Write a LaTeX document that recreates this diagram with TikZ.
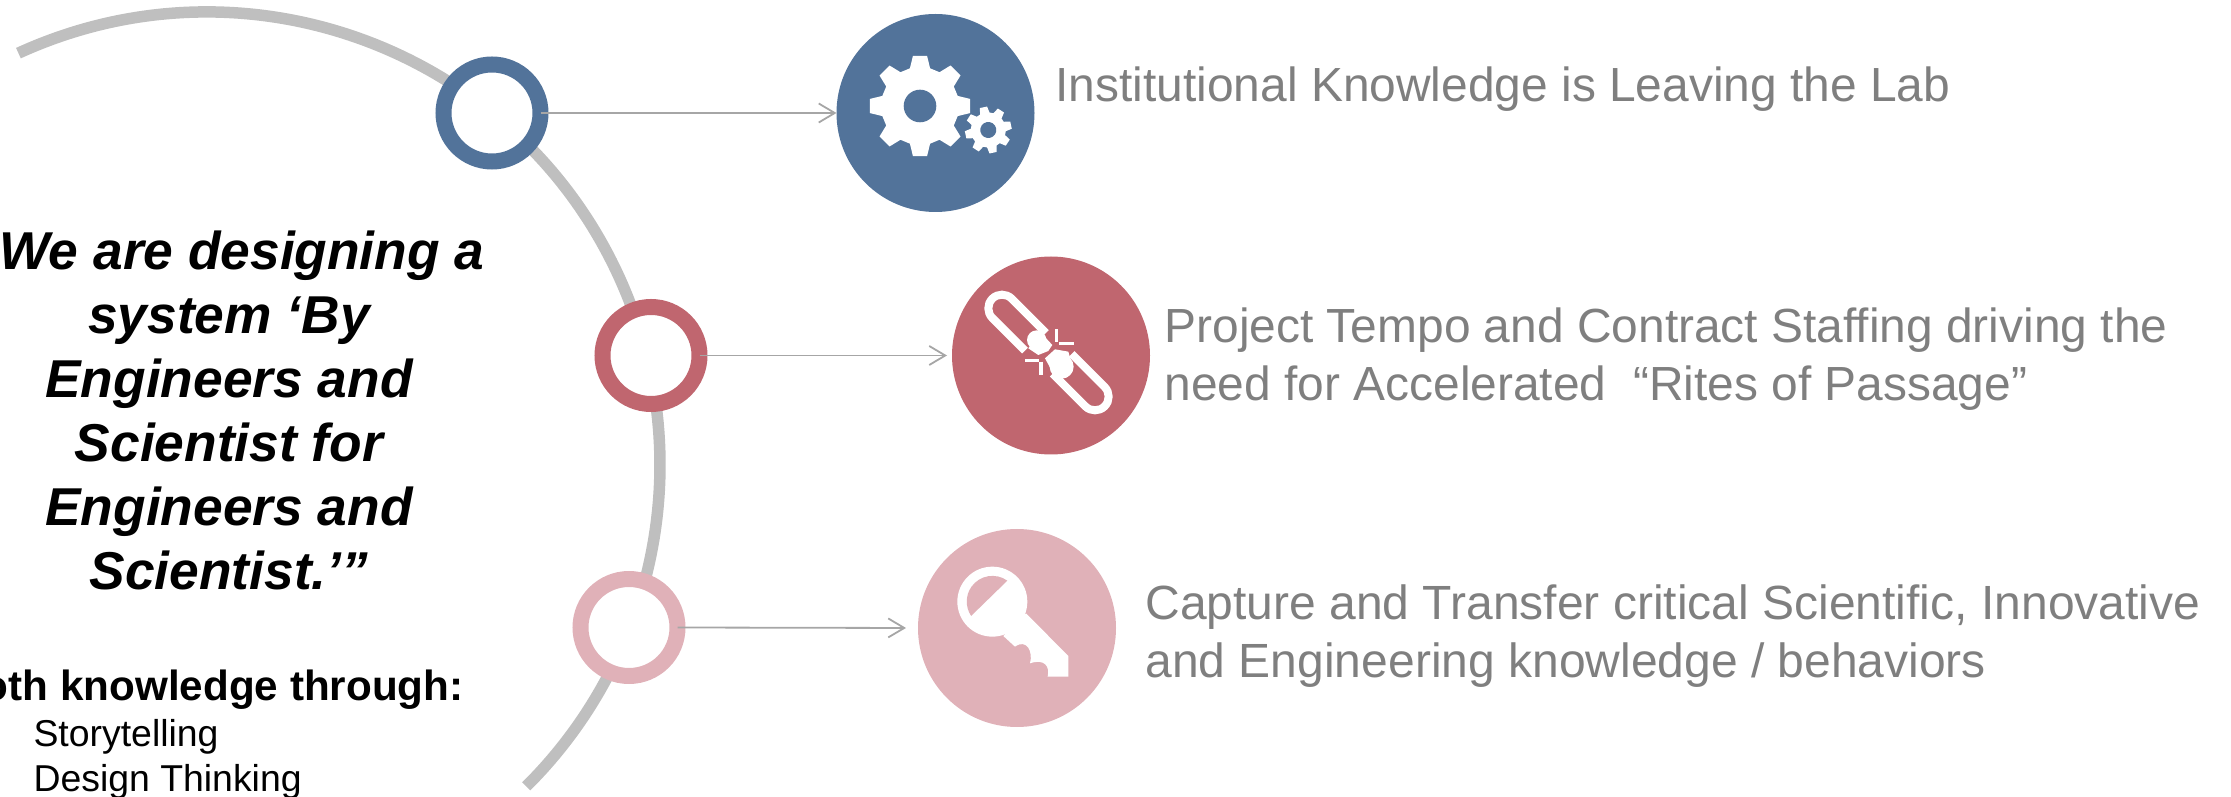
\documentclass[tikz,border=0pt]{standalone}
\usepackage{fontspec}
\setmainfont{Liberation Sans}
\usepackage{tikz}
\usetikzlibrary{arrows,arrows.meta,positioning}
\definecolor{gearblue}{HTML}{52739A}
\definecolor{linkred}{HTML}{C0666F}
\definecolor{keypink}{HTML}{E0B1B8}
\definecolor{arcgrey}{HTML}{BFBFBF}
\definecolor{linegrey}{HTML}{A6A6A6}
\definecolor{textgrey}{HTML}{7F7F7F}
\tikzstyle{ring} = [circle,draw,fill=white,line width=16pt,minimum size=97pt,inner sep=0pt,outer sep=0pt]
\tikzstyle{disc} = [circle,minimum size=198pt,inner sep=0pt,outer sep=0pt]
\tikzstyle{pointer} = [draw=linegrey,line width=1.8pt,-{Straight Barb[length=16pt,width=19pt,line width=1.8pt]}]
\tikzstyle{heading} = [anchor=west,text=textgrey,align=left,font=\fontsize{47.9}{58}\selectfont]
\tikzstyle{quote} = [align=center,font=\fontsize{53.3}{64}\selectfont\bfseries\itshape]
% one gear: teeth around the shifted origin, then the hole
\newcommand{\gearicon}[6]{
	\begin{scope}[shift={(#1)},rotate=#2]
		\fill[white] (-#6-7:#4) \foreach \a in {0,45,...,315} {
			-- (\a-#6-7:#4) -- (\a-#6:#3) -- (\a+#6:#3) -- (\a+#6+7:#4)} -- cycle;
		\fill[gearblue] (0,0) circle (#5);
	\end{scope}}
\begin{document}
\begin{tikzpicture}[x=1pt,y=1pt]
	\useasboundingbox (0,0) rectangle (2231,796);

	\draw[arcgrey,line width=11.5pt] (207,331) ++(114.6:453) arc (114.6:-45.2:453);

	\node (ring1)[ring,draw=gearblue] at (492,683) {};
	\node (ring2)[ring,draw=linkred] at (651,440.5) {};
	\node (ring3)[ring,draw=keypink] at (629,168.5) {};

	\node (disc1)[disc,fill=gearblue] at (935.5,683) {};
	\node (disc2)[disc,fill=linkred] at (1051,440.5) {};
	\node (disc3)[disc,fill=keypink] at (1017,168) {};

	\draw[pointer,shorten >=0pt] (ring1.east) -- (disc1.west);
	\draw[pointer,shorten >=5pt] (ring2.east) -- (disc2.west);
	\draw[pointer,shorten >=12pt] (ring3.east) -- (disc3.west);

	\gearicon{920,690}{0}{50.7}{39}{16.3}{8}
	\gearicon{988.3,666}{12}{23.5}{17.5}{8}{9}

	% broken link, coordinates read off a 3x crop
	\begin{scope}[shift={(940,546)},x=0.3333pt,y=-0.3333pt]
		\draw[white,line width=8pt] (255,302) -- (157,204) arc (135:315:41) -- (318,249);
		\draw[white,line width=8pt] (395,312) -- (494,411) arc (-45:135:41) -- (338,371);
		\fill[white] (290,270) circle (29);
		\fill[white] (365,350) circle (36);
		\fill[white] (300,245) -- (337,285) -- (325,303) -- (295,315) -- (265,295) -- cycle;
		\fill[white] (345,298) -- (385,305) -- (395,340) -- (345,380) -- (315,325) -- cycle;
		\draw[white,line width=3.5pt] (350,238) -- (350,275);
		\draw[white,line width=3.5pt] (358,280) -- (402,280);
		\draw[white,line width=3.5pt] (255,332) -- (298,332);
		\draw[white,line width=3.5pt] (303,335) -- (303,375);
	\end{scope}

	% key, same way
	\begin{scope}[shift={(910,276)},x=0.3333pt,y=-0.3333pt]
		\fill[white] (247,245) circle (105);
		\fill[white] (348,280) -- (475,408) -- (475,470) -- (413,470)
			.. controls (420,440) and (405,415) .. (360,430)
			.. controls (370,395) and (350,355) .. (315,380) -- (280,348) -- cycle;
		\fill[keypink] (292,182) arc (-54.5:-214:77) -- cycle;
	\end{scope}

	\node (text1)[heading] at (1052,706.7) {Institutional Knowledge is Leaving the Lab};
	\node (text2)[heading] at (1161,436.5) {Project Tempo and Contract Staffing driving the\\need for Accelerated~~“Rites of Passage”};
	\node (text3)[heading,font=\fontsize{48}{58}\selectfont] at (1142,160) {Capture and Transfer critical Scientific, Innovative\\and Engineering knowledge / behaviors};

	\node (quote)[quote] at (229,386) {\hspace*{26pt}We are designing a\\system ‘By\\Engineers and\\Scientist for\\Engineers and\\Scientist.’”};
	\node (through)[anchor=east,font=\fontsize{42.2}{46}\selectfont\bfseries] at (467,106.5) {oth knowledge through:};
	\node (story)[anchor=west,font=\fontsize{37.4}{44}\selectfont] at (30,59) {Storytelling};
	\node (design)[anchor=west,font=\fontsize{37.4}{44}\selectfont] at (30,14.5) {Design Thinking};
\end{tikzpicture}
\end{document}
